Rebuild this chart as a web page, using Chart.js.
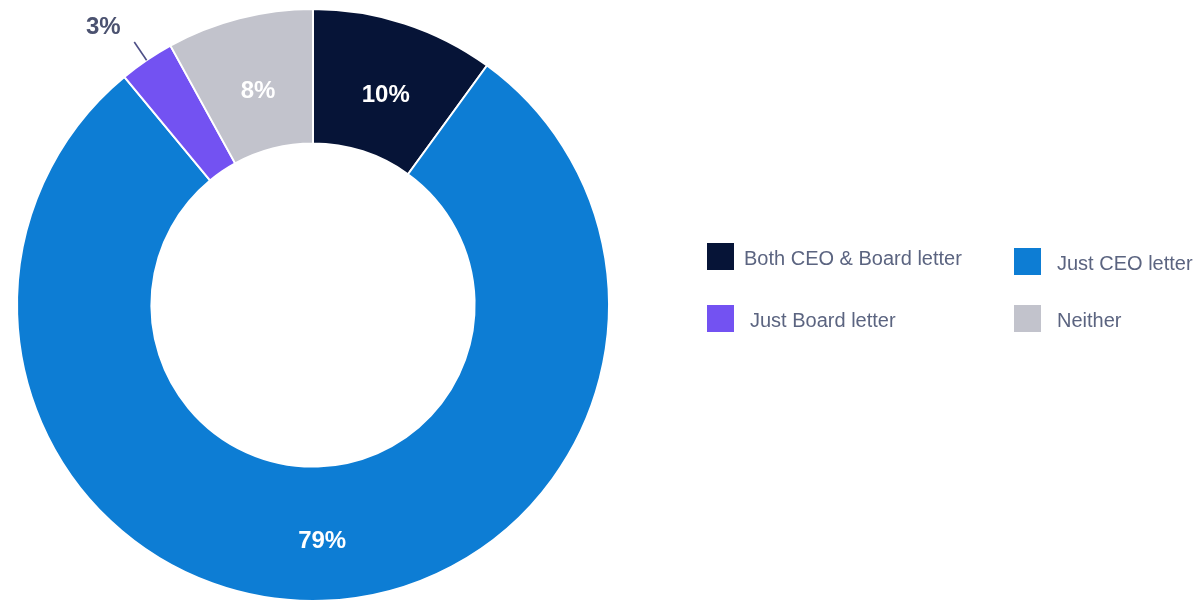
<!DOCTYPE html>
<html>
<head>
<meta charset="utf-8">
<script src="https://cdn.jsdelivr.net/npm/chart.js@4/dist/chart.umd.min.js"></script>
<style>
  html, body { margin: 0; padding: 0; background: #ffffff; overflow: hidden; }
  #wrap { position: relative; width: 1195px; height: 600px; overflow: hidden; }
  #chart { display: block; }
</style>
</head>
<body>
<div id="wrap"><canvas id="chart" width="1195" height="610"></canvas></div>
<script>
// Share of companies publishing shareholder letters
const categories = ['Both CEO & Board letter', 'Just CEO letter', 'Just Board letter', 'Neither'];
const shares = [10, 79, 3, 8];
const sliceColors = ['#061437', '#0d7dd4', '#7352f2', '#c2c3cc'];

const FONT = '"Liberation Sans", Arial, sans-serif';
const TEXT_GREY = '#5b6480';
const LABEL_DARK = '#4b5270';

// Legend layout: two columns, two rows
const legendSlots = [
  { box: [707, 243], text: [744, 265] },
  { box: [1014, 248], text: [1057, 270] },
  { box: [707, 305], text: [750, 327] },
  { box: [1014, 305], text: [1057, 327] }
];

const sliceLabels = {
  id: 'sliceLabels',
  afterDatasetsDraw(chart) {
    const ctx = chart.ctx;
    const meta = chart.getDatasetMeta(0);
    const values = chart.data.datasets[0].data;
    ctx.save();
    ctx.font = 'bold 24px ' + FONT;
    ctx.textAlign = 'center';
    ctx.textBaseline = 'middle';
    meta.data.forEach((arc, i) => {
      const p = arc.getProps(['x', 'y', 'startAngle', 'endAngle', 'innerRadius', 'outerRadius'], true);
      const mid = (p.startAngle + p.endAngle) / 2;
      const text = values[i] + '%';
      if (values[i] >= 5) {
        const r = (p.innerRadius + p.outerRadius) / 2;
        ctx.fillStyle = '#ffffff';
        ctx.fillText(text, p.x + Math.cos(mid) * r + 2, p.y + Math.sin(mid) * r + 8);
      } else {
        const r0 = p.outerRadius;
        const r1 = p.outerRadius + 22;
        const x1 = p.x + Math.cos(mid) * r1;
        const y1 = p.y + Math.sin(mid) * r1;
        ctx.strokeStyle = '#4d4f86';
        ctx.lineWidth = 1.6;
        ctx.beginPath();
        ctx.moveTo(p.x + Math.cos(mid) * r0, p.y + Math.sin(mid) * r0);
        ctx.lineTo(x1, y1);
        ctx.stroke();
        ctx.fillStyle = LABEL_DARK;
        ctx.fillText(text, x1 - 31, y1 - 15);
      }
    });
    ctx.restore();
  }
};

const gridLegend = {
  id: 'gridLegend',
  afterDraw(chart) {
    const ctx = chart.ctx;
    const ds = chart.data.datasets[0];
    ctx.save();
    ctx.font = '20px ' + FONT;
    ctx.textAlign = 'left';
    ctx.textBaseline = 'alphabetic';
    chart.data.labels.forEach((label, i) => {
      const slot = legendSlots[i];
      ctx.fillStyle = ds.backgroundColor[i];
      ctx.fillRect(slot.box[0], slot.box[1], 27, 27);
      ctx.fillStyle = TEXT_GREY;
      ctx.fillText(label, slot.text[0], slot.text[1]);
    });
    ctx.restore();
  }
};

new Chart(document.getElementById('chart'), {
  type: 'doughnut',
  data: {
    labels: categories,
    datasets: [{
      data: shares,
      backgroundColor: sliceColors,
      borderColor: '#ffffff',
      borderWidth: 2,
      hoverOffset: 0
    }]
  },
  options: {
    responsive: false,
    animation: false,
    cutout: '54.6%',
    layout: { padding: { left: 16, top: 8, right: 585, bottom: 8 } },
    plugins: {
      legend: { display: false },
      tooltip: { enabled: false }
    }
  },
  plugins: [sliceLabels, gridLegend]
});
</script>
</body>
</html>
